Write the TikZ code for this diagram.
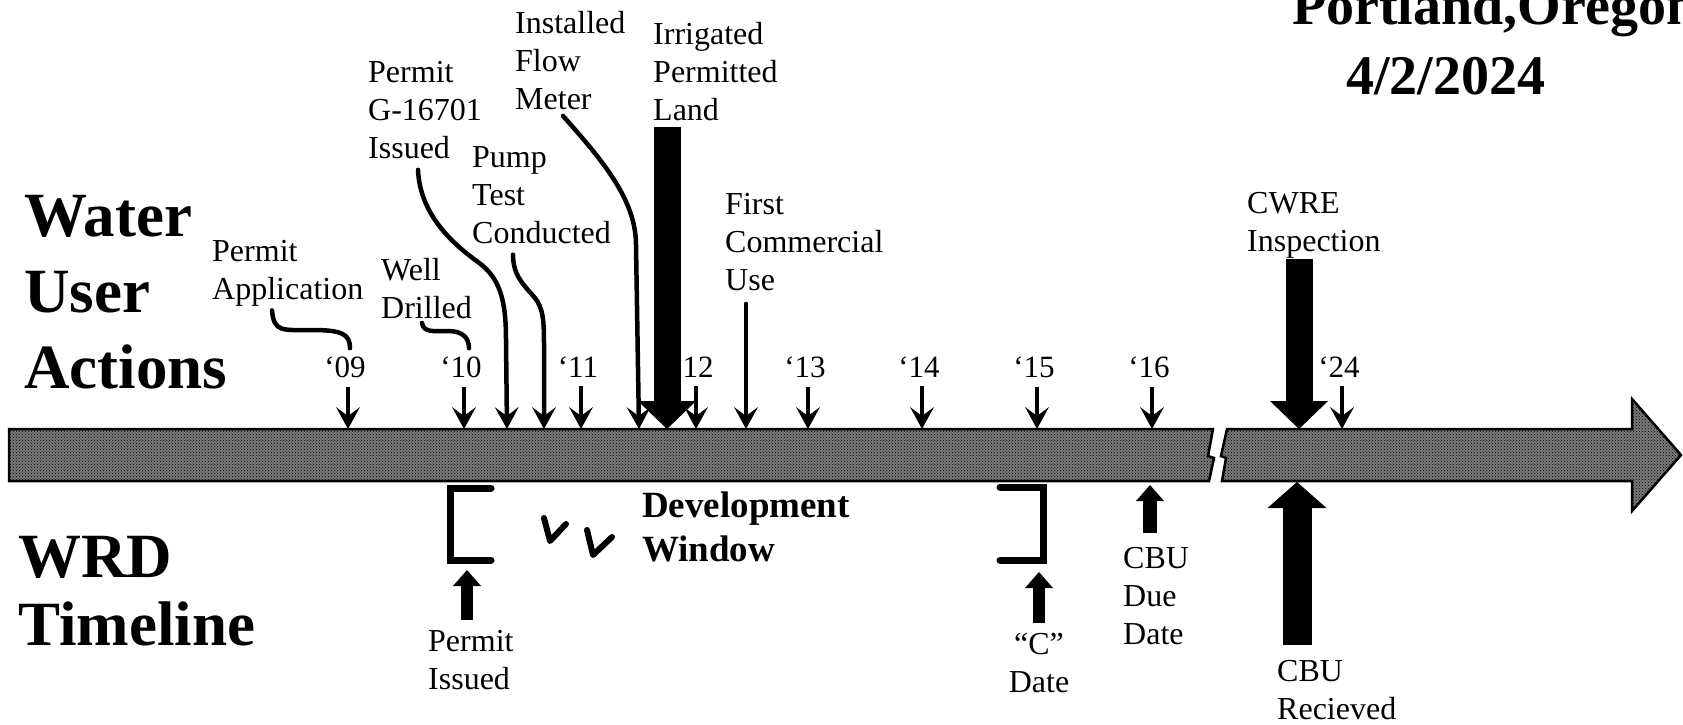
\documentclass[tikz,border=0pt]{standalone}
\usepackage{fontspec}
\setmainfont{Liberation Serif}
\usetikzlibrary{arrows.meta,calc,patterns}

\tikzset{
  lbl/.style={font=\fontsize{32}{38}\selectfont, align=left, anchor=north west},
  yr/.style={font=\fontsize{31}{37}\selectfont, anchor=base},
  hdr/.style={font=\bfseries\fontsize{63}{76}\selectfont, align=left, anchor=north west},
  band/.style={draw=black, line width=2.5pt, fill=black!52, line join=miter,
    postaction={pattern=crosshatch dots, pattern color=black}},
  lead/.style={line width=4.5pt, line cap=round},
  leadarrow/.style={lead, -{Stealth[length=22pt,width=24pt,inset=9pt,line width=0pt]}},
  tick/.style={line width=4pt, -{Stealth[length=22pt,width=24pt,inset=9pt,line width=0pt]}},
  bigdown/.style={line width=27pt, -{Triangle[length=28pt,width=58pt,line width=0pt]}},
  smallup/.style={line width=12pt, -{Triangle[length=16pt,width=28pt,line width=0pt]}},
  bigup/.style={line width=29pt, -{Triangle[length=26pt,width=59pt,line width=0pt]}},
  bracket/.style={line width=7pt, line cap=round, line join=miter},
}

\begin{document}
\begin{tikzpicture}[x=1pt, y=-1pt, every node/.style={inner sep=0pt}]
  \useasboundingbox (0,0) rectangle (1683,724);
  \fill[white] (0,0) rectangle (1683,724);

  % the time band, broken before '24
  \draw[band] (9,429) -- (1213,429) -- (1208,456) -- (1214,458) -- (1209,481) -- (9,481) -- cycle;
  \draw[band] (1227,429) -- (1632,429) -- (1632,399) -- (1681,455) -- (1632,511)
    -- (1632,481) -- (1222,481) -- (1226,458) -- (1221,456) -- cycle;

  % headings
  \node[font=\bfseries\fontsize{56}{70}\selectfont, align=left, anchor=north west] (ttl)
    at (1292,-15) {Portland,Oregon\\\hspace*{54pt}4/2/2024};
  \node[hdr] (wua) at (24,195) {Water\\User\\Actions};
  \node[hdr, font=\bfseries\fontsize{63}{68}\selectfont] (wrd) at (18,536) {WRD\\Timeline};
  \node[font=\bfseries\fontsize{37}{44}\selectfont, align=left, anchor=north west] (dw)
    at (642,492) {Development\\Window};

  % year ticks on the band
  \foreach \yr/\xx in {09/348,10/464,11/581,12/696,13/808,14/922,15/1037,16/1152,24/1342}{
    \coordinate (t\yr) at (\xx,429);
    \node[yr] (y\yr) at (\xx-3,377) {‘\yr};
    \draw[tick] ($(y\yr.south -| t\yr)+(0,9)$) -- (t\yr);
  }

  % water user actions
  \node[lbl] (pa) at (212,240) {Permit\\Application};
  \node[lbl] (wd) at (381,258) {Well\\Drilled};
  \node[lbl] (pg) at (368,61) {Permit\\G-16701\\Issued};
  \node[lbl] (pt) at (472,146) {Pump\\Test\\Conducted};
  \node[lbl] (fm) at (515,11) {Installed\\Flow\\Meter};
  \node[lbl] (ir) at (653,22) {Irrigated\\Permitted\\Land};
  \node[lbl] (fc) at (725,193) {First\\Commercial\\Use};
  \node[lbl] (cw) at (1247,192) {CWRE\\Inspection};

  \coordinate (tpg) at (507,429);
  \coordinate (tpt) at (544,429);
  \coordinate (tfm) at (639,429);
  \coordinate (tir) at (667,429);
  \coordinate (tfc) at (746,429);
  \coordinate (tcw) at (1299,429);

  \draw[lead] ($(pa.south west)+(60,4)$) .. controls +(2,22) and +(-30,0) .. (312,330)
    .. controls +(30,0) and +(0,-14) .. ($(y09.north -| t09)+(2,-8)$);
  \draw[lead] ($(wd.south west)+(41,4)$) .. controls +(2,10) and +(-15,0) .. (448,331)
    .. controls +(15,0) and +(0,-10) .. ($(y10.north -| t10)+(5,-8)$);
  \draw[leadarrow] ($(pg.south west)+(50,11)$) .. controls +(2,45) and +(-25,-18) .. (478,262)
    .. controls +(22,16) and +(0,-40) .. (506,340) -- (tpg);
  \draw[leadarrow] ($(pt.south west)+(41,11)$) .. controls +(0,22) and +(-10,-12) .. (535,298)
    .. controls +(8,10) and +(0,-25) .. (544,345) -- (tpt);
  \draw[leadarrow] ($(fm.south west)+(48,6)$) .. controls +(40,45) and +(0,-45) .. (636,245) -- (tfm);
  \draw[leadarrow] ($(fc.south -| tfc)+(0,13)$) -- (tfc);
  \draw[bigdown] ($(ir.south -| tir)+(0,6)$) -- (tir);
  \draw[bigdown] ($(cw.south -| tcw)+(0,1)$) -- (tcw);

  % WRD timeline
  \node[lbl] (pi) at (428,630) {Permit\\Issued};
  \node[lbl, align=center, anchor=north] (cd) at (1039,633) {“C”\\Date};
  \node[lbl] (cdd) at (1123,547) {CBU\\Due\\Date};
  \node[lbl] (cr) at (1277,660) {CBU\\Recieved};

  \coordinate (upi) at (467,570);
  \coordinate (ucd) at (1039,572);
  \coordinate (ucdd) at (1150,485);
  \coordinate (ucr) at (1297,482);
  \draw[smallup] ($(pi.north -| upi)+(0,-10)$) -- (upi);
  \draw[smallup] ($(cd.north -| ucd)+(0,-10)$) -- (ucd);
  \draw[smallup, line width=14pt] ($(cdd.north -| ucdd)+(0,-14)$) -- (ucdd);
  \draw[bigup] ($(cr.north -| ucr)+(0,-15)$) -- (ucr);

  % development window
  \draw[bracket] (491,488) -- (450,488) -- (450,560) -- (491,560);
  \draw[bracket] (1000,487) -- (1043,487) -- (1043,560) -- (1000,560);
  \draw[lead, line width=6pt, line join=round] (544,518) -- (550,541) -- (566,524);
  \draw[lead, line width=6pt, line join=round] (587,530) -- (593,555) -- (612,537);
\end{tikzpicture}
\end{document}
